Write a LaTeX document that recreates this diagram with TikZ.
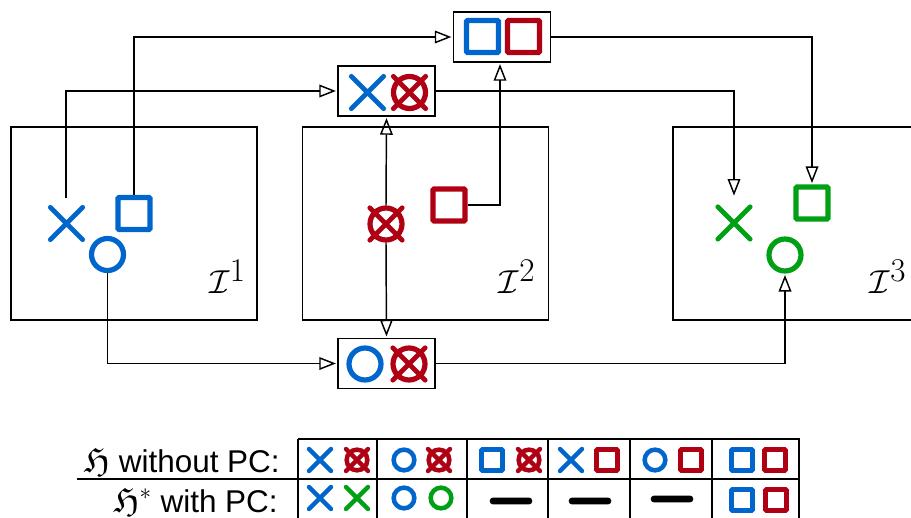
\documentclass[tikz,border=0pt]{standalone}
\usepackage{amsmath,amssymb}
\usepackage{fontspec}
\usetikzlibrary{arrows.meta,shapes.misc}
\newfontfamily\labelfont{Liberation Sans}
\definecolor{hblue}{RGB}{0,102,204}
\definecolor{hred}{RGB}{176,0,20}
\definecolor{hgreen}{RGB}{0,160,20}
\begin{document}
\begin{tikzpicture}[x=0.75pt,y=-0.75pt,
instbox/.style={rectangle,draw=black,line width=1.1pt,minimum width=184.5pt,minimum height=144.75pt},
pairbox/.style={rectangle,draw=black,line width=1.1pt,minimum width=72.75pt,minimum height=37.5pt},
sq/.style={rectangle,draw=#1,line width=3.9pt,inner sep=0pt,minimum size=24pt,rounded corners=0.8pt},
ring/.style={circle,draw=#1,line width=3.9pt,inner sep=0pt,minimum size=24pt},
crs/.style={cross out,draw=#1,line width=3.7pt,line cap=round,inner sep=0pt,minimum size=20.5pt},
tsq/.style={sq=#1,line width=3.6pt,minimum size=15.75pt},
tring/.style={ring=#1,line width=3.4pt,minimum size=15.5pt},
tcrs/.style={crs=#1,line width=3.4pt,minimum size=13pt},
bar/.style={rectangle,fill=black,inner sep=0pt,minimum width=32pt,minimum height=5.2pt,rounded corners=2.6pt},
tlabel/.style={anchor=base east,font=\labelfont\fontsize{23.6}{28}\selectfont,inner sep=0pt},
ilabel/.style={font=\fontsize{38}{41}\selectfont,inner sep=0pt},
link/.style={draw=black,line width=1.1pt,-{Triangle[open,length=12.5pt,width=9.5pt,line width=1.1pt]},shorten >=1pt},
]
\clip (0,0) rectangle (911,518);

% instances
\node[instbox] (instA) at (134,223.5) {};
\node[instbox] (instB) at (425.5,223.5) {};
\node[instbox] (instC) at (796,223.5) {};
\node[ilabel] (labA) at (227.5,277) {$\mathcal{I}^1$};
\node[ilabel] (labB) at (517,277) {$\mathcal{I}^2$};
\node[ilabel] (labC) at (888,277) {$\mathcal{I}^3$};

\node[crs=hblue] (crossA) at (66.5,223.5) {};
\node[sq=hblue] (squareA) at (134,213.5) {};
\node[ring=hblue] (ringA) at (107.5,254.5) {};
\coordinate (crossAtop) at (66,198);

\node[ring=hred] (ringB) at (386,224) {};
\node[crs=hred] (crossB) at (386,224) {};
\node[sq=hred] (squareB) at (449,205) {};

\node[crs=hgreen] (crossC) at (734,223) {};
\node[sq=hgreen] (squareC) at (812,203) {};
\node[ring=hgreen] (ringC) at (785,255) {};
\coordinate (crossCtop) at (734,197);

% pairs
\node[pairbox] (pairTop) at (502,37) {};
\node[sq=hblue] (pairTopL) at (482.5,36.5) {};
\node[sq=hred] (pairTopR) at (523.5,36.5) {};
\node[pairbox] (pairMid) at (386.5,91) {};
\node[crs=hblue] (pairMidL) at (367.5,92.5) {};
\node[ring=hred] (pairMidR) at (409.5,92.5) {};
\node[crs=hred] (pairMidX) at (409.5,92.5) {};
\node[pairbox] (pairLow) at (386.5,363.5) {};
\node[ring=hblue] (pairLowL) at (365,364) {};
\node[ring=hred] (pairLowR) at (409,364) {};
\node[crs=hred] (pairLowX) at (409,364) {};

\path[link] (squareA.north) |- (pairTop.west);
\path[link] (crossAtop) |- (pairMid.west);
\path[link] (ringA.south) |- (pairLow.west);
\path[link] (squareB.east) -| ([xshift=-1.5pt]pairTop.south);
\path[link] (ringB.north) -- (pairMid.south);
\path[link] (ringB.south) -- (pairLow.north);
\path[link] (pairTop.east) -| (squareC.north);
\path[link] (pairMid.east) -| (crossCtop);
\path[link] (pairLow.east) -| (ringC.south);

% table
\draw[line width=1.1pt] (298,439) -- (800,439);
\draw[line width=1.1pt] (77,479) -- (800,479);
\foreach \sx in {298,377,467,548,630,712,799}
	\draw[line width=1.1pt] (\sx,439) -- (\sx,518);
\node[tlabel] (rowA) at (280,472) {{\fontsize{27}{28}\selectfont$\mathfrak{H}$} without PC:};
\node[tlabel] (rowB) at (278,512) {{\fontsize{27}{28}\selectfont$\mathfrak{H}^*$} with PC:};

\node[tcrs=hblue] (a1) at (320,460) {};
\node[tring=hred] (a2) at (357,460) {};
\node[tcrs=hred] (a2x) at (357,460) {};
\node[tring=hblue] (a3) at (404,460) {};
\node[tring=hred] (a4) at (439,460) {};
\node[tcrs=hred] (a4x) at (439,460) {};
\node[tsq=hblue] (a5) at (492,460) {};
\node[tring=hred] (a6) at (529,460) {};
\node[tcrs=hred] (a6x) at (529,460) {};
\node[tcrs=hblue] (a7) at (571,460) {};
\node[tsq=hred] (a8) at (607,460) {};
\node[tring=hblue] (a9) at (655,460) {};
\node[tsq=hred] (a10) at (691,460) {};
\node[tsq=hblue] (a11) at (742,460) {};
\node[tsq=hred] (a12) at (775,460) {};

\node[tcrs=hblue] (b1) at (320,498) {};
\node[tcrs=hgreen] (b2) at (357,498) {};
\node[tring=hblue] (b3) at (404,498) {};
\node[tring=hgreen] (b4) at (441,498) {};
\node[bar] (b5) at (511,501) {};
\node[bar] (b6) at (590,501) {};
\node[bar] (b7) at (672,499) {};
\node[tsq=hblue] (b8) at (742,500) {};
\node[tsq=hred] (b9) at (776,500) {};
\end{tikzpicture}
\end{document}
